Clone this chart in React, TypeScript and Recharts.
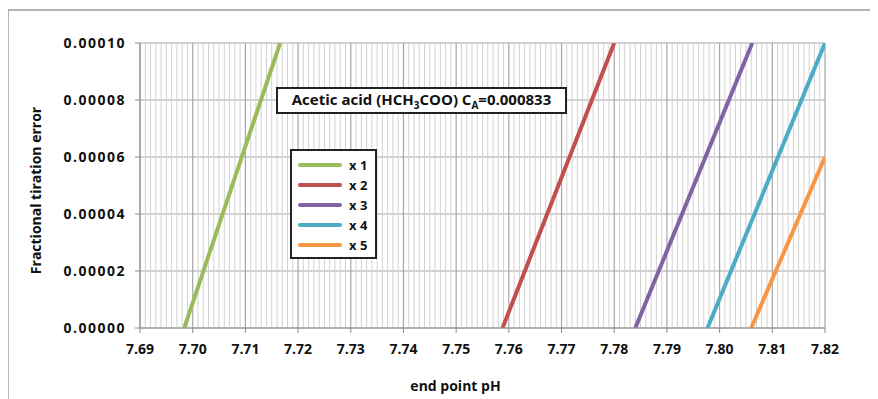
import { LineChart, Line, XAxis, YAxis, CartesianGrid, Legend, ReferenceLine } from "recharts";

const phTicks = [7.69, 7.7, 7.71, 7.72, 7.73, 7.74, 7.75, 7.76, 7.77, 7.78, 7.79, 7.8, 7.81, 7.82];
const errorTicks = [0, 0.00002, 0.00004, 0.00006, 0.00008, 0.0001];

// end point pH and fractional error for each dilution factor
const x1Ph = [7.6984, 7.7166];
const x1Err = [0, 0.0001];
const x2Ph = [7.7588, 7.78];
const x2Err = [0, 0.0001];
const x3Ph = [7.784, 7.8062];
const x3Err = [0, 0.0001];
const x4Ph = [7.7977, 7.82];
const x4Err = [0, 0.0001];
const x5Ph = [7.806, 7.82];
const x5Err = [0, 0.00006];

const seriesNames = ["x 1", "x 2", "x 3", "x 4", "x 5"];
const seriesColors = ["#9bbb59", "#c0504d", "#8064a2", "#4bacc6", "#f79646"];

const toRows = (ph: number[], err: number[]) => ph.map((p, i) => ({ ph: p, err: err[i] }));
const seriesData = [
  toRows(x1Ph, x1Err),
  toRows(x2Ph, x2Err),
  toRows(x3Ph, x3Err),
  toRows(x4Ph, x4Err),
  toRows(x5Ph, x5Err),
];

// minor vertical grid every 0.001 pH
const minorPh: number[] = [];
for (let i = 7690; i <= 7820; i++) {
  if (i % 10 !== 0) minorPh.push(i / 1000);
}

const font = "'Open Sans', sans-serif";

const LegendBox = () => (
  <div
    style={{
      border: "2px solid #222",
      background: "#fff",
      padding: "4px 8px 2px 6px",
      fontFamily: font,
      fontWeight: 700,
      fontSize: 13,
      color: "#111",
    }}
  >
    {seriesNames.map((n, i) => (
      <div key={n} style={{ display: "flex", alignItems: "center", height: 20 }}>
        <div style={{ width: 44, height: 4, borderRadius: 2, background: seriesColors[i], marginRight: 7 }} />
        <span>{n}</span>
      </div>
    ))}
  </div>
);

const App = () => {
  return (
    <div
      style={{
        position: "relative",
        top: 1,
        left: -1,
        width: 870,
        height: 391,
        boxSizing: "border-box",
        borderTop: "2px solid #b5b5b5",
        borderLeft: "2px solid #b5b5b5",
        background: "#fff",
      }}
    >
      <LineChart width={868} height={389} margin={{ top: 32, right: 52, left: 0, bottom: 0 }}>
        {minorPh.map((v) => (
          <ReferenceLine key={v} x={v} stroke="#d2d2d2" strokeWidth={1} />
        ))}
        <CartesianGrid stroke="#a6a6a6" strokeWidth={1.2} />
        <XAxis
          type="number"
          dataKey="ph"
          domain={[7.69, 7.82]}
          ticks={phTicks}
          allowDataOverflow
          tickFormatter={(v: number) => v.toFixed(2)}
          height={72}
          stroke="#8c8c8c"
          tickSize={5}
          tickMargin={11}
          tick={{ fill: "#111", fontFamily: font, fontWeight: 700, fontSize: 14 }}
          label={{
            value: "end point pH",
            position: "insideBottom",
            offset: 9,
            dx: -27,
            style: { fill: "#111", fontFamily: font, fontWeight: 700, fontSize: 14 },
          }}
        />
        <YAxis
          type="number"
          dataKey="err"
          domain={[0, 0.0001]}
          ticks={errorTicks}
          allowDataOverflow
          tickFormatter={(v: number) => v.toFixed(5)}
          width={131}
          stroke="#8c8c8c"
          tickSize={5}
          tickMargin={9}
          tick={{ fill: "#111", fontFamily: font, fontWeight: 700, fontSize: 14, letterSpacing: 1.5 }}
          label={{
            value: "Fractional tiration error",
            angle: -90,
            position: "center",
            dx: -38,
            dy: 5,
            style: { fill: "#111", fontFamily: font, fontWeight: 700, fontSize: 14, textAnchor: "middle" },
          }}
        />
        <Legend
          layout="vertical"
          align="center"
          verticalAlign="middle"
          content={() => <LegendBox />}
          wrapperStyle={{ left: 281, top: 138, width: "auto", height: "auto" }}
        />
        {seriesData.map((d, i) => (
          <Line
            key={seriesNames[i]}
            data={d}
            dataKey="err"
            name={seriesNames[i]}
            type="linear"
            stroke={seriesColors[i]}
            strokeWidth={4}
            dot={false}
            isAnimationActive={false}
          />
        ))}
      </LineChart>
      <div
        style={{
          position: "absolute",
          left: 267,
          top: 76,
          width: 291,
          height: 27,
          boxSizing: "border-box",
          border: "2px solid #222",
          background: "#fff",
          fontFamily: font,
          fontWeight: 700,
          fontSize: 15,
          color: "#111",
          display: "flex",
          alignItems: "center",
          justifyContent: "center",
          whiteSpace: "nowrap",
        }}
      >
        <span>
          Acetic acid (HCH<sub style={{ fontSize: 10 }}>3</sub>COO) C<sub style={{ fontSize: 10 }}>A</sub>=0.000833
        </span>
      </div>
    </div>
  );
};

export default App;
